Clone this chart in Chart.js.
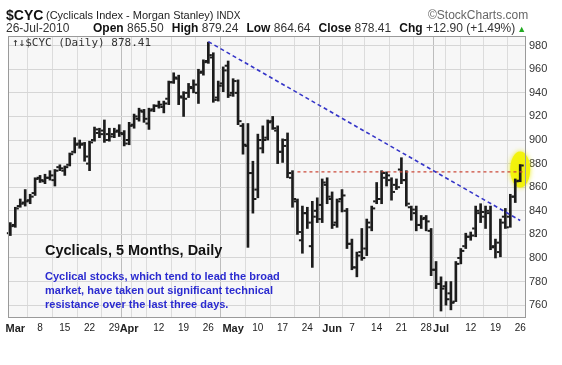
<!DOCTYPE html>
<html><head><meta charset="utf-8">
<script src="https://cdn.jsdelivr.net/npm/chart.js@4.4.1/dist/chart.umd.min.js"></script>
<style>
html,body{margin:0;padding:0;background:#fff;}
#wrap{position:relative;width:562px;height:365px;overflow:hidden;font-family:"Liberation Sans",Arial,sans-serif;}
#c{position:absolute;left:0;top:0;}
.t{position:absolute;white-space:nowrap;line-height:1;}
.l2 b{font-weight:bold;color:#111;}
.l2 span{color:#333;}
.g{margin-left:8px;}
</style></head><body>
<div id="wrap">
<canvas id="c" width="562" height="365"></canvas>
<div class="t" style="left:6px;top:8px;font-size:14px;font-weight:bold;color:#111">$CYC</div>
<div class="t" style="left:46px;top:9.5px;font-size:11px;color:#222">(Cyclicals Index - Morgan Stanley) <span style="font-size:10px">INDX</span></div>
<div class="t" style="left:428px;top:9px;font-size:12px;color:#666">©StockCharts.com</div>
<div class="t" style="left:6px;top:22px;font-size:12px;color:#333">26-Jul-2010</div>
<div class="t l2" style="left:93px;top:22px;font-size:12px"><b>Open</b> <span>865.50</span><b class="g">High</b> <span>879.24</span><b class="g">Low</b> <span>864.64</span><b class="g">Close</b> <span>878.41</span><b class="g">Chg</b> <span>+12.90 (+1.49%)</span><span style="color:#2a2;font-size:9px;margin-left:2px">▲</span></div>
<div class="t" style="left:12px;top:37px;font-size:11px;color:#333;font-family:'DejaVu Sans Mono',monospace">↑↓$CYC (Daily) 878.41</div>
<div class="t" style="left:45px;top:243px;font-size:14.5px;font-weight:bold;color:#111">Cyclicals, 5 Months, Daily</div>
<div class="t" style="left:45px;top:270.5px;font-size:11px;font-weight:bold;color:#2b2bd0">Cyclical stocks, which tend to lead the broad</div>
<div class="t" style="left:45px;top:284.5px;font-size:11px;font-weight:bold;color:#2b2bd0">market, have taken out significant technical</div>
<div class="t" style="left:45px;top:298.5px;font-size:11px;font-weight:bold;color:#2b2bd0">resistance over the last three days.</div>
</div>
<script>
const dates = [
 '2010-02-26',
 '2010-03-01','2010-03-02','2010-03-03','2010-03-04','2010-03-05',
 '2010-03-08','2010-03-09','2010-03-10','2010-03-11','2010-03-12',
 '2010-03-15','2010-03-16','2010-03-17','2010-03-18','2010-03-19',
 '2010-03-22','2010-03-23','2010-03-24','2010-03-25','2010-03-26',
 '2010-03-29','2010-03-30','2010-03-31','2010-04-01',
 '2010-04-05','2010-04-06','2010-04-07','2010-04-08','2010-04-09',
 '2010-04-12','2010-04-13','2010-04-14','2010-04-15','2010-04-16',
 '2010-04-19','2010-04-20','2010-04-21','2010-04-22','2010-04-23',
 '2010-04-26','2010-04-27','2010-04-28','2010-04-29','2010-04-30',
 '2010-05-03','2010-05-04','2010-05-05','2010-05-06','2010-05-07',
 '2010-05-10','2010-05-11','2010-05-12','2010-05-13','2010-05-14',
 '2010-05-17','2010-05-18','2010-05-19','2010-05-20','2010-05-21',
 '2010-05-24','2010-05-25','2010-05-26','2010-05-27','2010-05-28',
 '2010-06-01','2010-06-02','2010-06-03','2010-06-04',
 '2010-06-07','2010-06-08','2010-06-09','2010-06-10','2010-06-11',
 '2010-06-14','2010-06-15','2010-06-16','2010-06-17','2010-06-18',
 '2010-06-21','2010-06-22','2010-06-23','2010-06-24','2010-06-25',
 '2010-06-28','2010-06-29','2010-06-30','2010-07-01','2010-07-02',
 '2010-07-06','2010-07-07','2010-07-08','2010-07-09',
 '2010-07-12','2010-07-13','2010-07-14','2010-07-15','2010-07-16',
 '2010-07-19','2010-07-20','2010-07-21','2010-07-22','2010-07-23',
 '2010-07-26'];
const opens = [821, 828,844,847,849,855, 868,865,868,866,877, 874,879,890,897,897, 880,900,906,908,905, 905,908,905,900,
 913,918,924,914,926, 929,928,935,949,952, 936,940,944,940,958, 967,970,936,948,963, 940,940,912,895,872,
 858,893,902,916,908, 890,900,868,848,815, 838,810,840,845,862, 850,830,850,840, 812,792,805,808,826,
 848,850,868,866,862, 875,866,843,838,828, 834,823,790,778,776, 770,763,800,810, 818,825,838,835,838,
 810,805,835,835,852, 865.50];
const highs = [830, 843,850,858,854,868, 870,871,874,875,879, 878,889,902,900,898, 899,911,910,917,910, 910,913,908,915,
 922,927,926,927,930, 933,933,950,957,955, 941,948,951,960,968, 983,974,950,962,967, 952,951,914,914,882,
 905,912,917,920,912, 901,906,874,850,844, 843,848,851,867,868, 856,850,858,842, 816,805,825,833,844,
 864,874,873,868,867, 885,874,844,844,836, 836,825,797,784,780, 780,797,808,821, 822,844,846,844,844,
 816,833,842,854,867, 879.24];
const lows = [819, 826,843,844,846,853, 864,863,866,861,874, 870,878,889,893,882, 874,899,902,898,899, 902,903,895,896,
 910,916,915,909,924, 927,923,930,948,930, 920,936,940,931,955, 965,932,933,941,936, 937,913,888,809,838,
 851,889,900,909,880, 881,868,843,820,804, 825,792,830,830,846, 825,826,839,808, 790,784,798,802,823,
 846,846,861,849,858, 863,844,832,823,825, 823,785,774,755,760, 756,763,795,808, 815,818,830,825,807,
 800,801,825,826,847, 864.64];
const closes = [827, 842,846,848,852,867, 866,868,870,874,876, 877,888,896,896,886, 898,909,905,900,903, 907,906,897,912,
 920,925,918,925,929, 930,931,949,953,937, 935,945,947,957,966, 972,934,946,959,938, 950,916,896,872,850,
 900,900,915,910,890, 895,872,850,822,838, 830,835,833,864,852, 828,848,853,812, 792,802,800,830,842,
 850,872,870,856,860, 866,846,841,828,833, 831,790,778,774,765, 762,795,806,818, 819,840,839,840,809,
 813,830,826,852,865, 878.41];

const xTickDates = ['2010-03-01','2010-03-08','2010-03-15','2010-03-22','2010-03-29','2010-04-01','2010-04-05',
 '2010-04-12','2010-04-19','2010-04-26','2010-05-03','2010-05-10','2010-05-17','2010-05-24','2010-06-01',
 '2010-06-07','2010-06-14','2010-06-21','2010-06-28','2010-07-01','2010-07-06','2010-07-12','2010-07-19','2010-07-26'];
const xTickLabels = ['Mar','8','15','22','29','Apr','','12','19','26','May','10','17','24','Jun',
 '7','14','21','28','Jul','','12','19','26'];
const monthLabels = ['Mar','Apr','May','Jun','Jul'];
const yTickLabels = [760,780,800,820,840,860,880,900,920,940,960,980];

const trendDates = ['2010-04-26','2010-07-26'];
const trendValues = [983.4, 831.8];
const resistanceStart = '2010-05-20';
const resistanceLevel = 873;
const highlightDate = '2010-07-26';
const highlightValue = 875;

const X_MIN = -0.475, X_MAX = 104.17;
const pos = d => dates.indexOf(d);
const xTickPos = xTickDates.map(pos);

const ohlcPlugin = {
  id: 'ohlc',
  beforeDraw(chart) {
    const {ctx, chartArea: a} = chart;
    ctx.save(); ctx.fillStyle = '#f7f7f7'; ctx.fillRect(a.left, a.top, a.width, a.height); ctx.restore();
  },
  beforeDatasetsDraw(chart) {
    const {ctx} = chart, xs = chart.scales.x, ys = chart.scales.y;
    const cx = xs.getPixelForValue(pos(highlightDate)), cy = ys.getPixelForValue(highlightValue);
    ctx.save();
    ctx.shadowColor = 'rgba(235,235,0,0.9)'; ctx.shadowBlur = 5;
    ctx.fillStyle = 'rgba(242,242,10,0.95)';
    ctx.beginPath(); ctx.ellipse(cx, cy, 10, 18, 0, 0, Math.PI * 2); ctx.fill();
    ctx.restore();
  },
  afterDatasetsDraw(chart) {
    const {ctx} = chart, xs = chart.scales.x, ys = chart.scales.y;
    ctx.save(); ctx.fillStyle = '#1c1c1c';
    for (let k = 0; k < dates.length; k++) {
      const px = xs.getPixelForValue(k);
      const yo = ys.getPixelForValue(opens[k]), yc = ys.getPixelForValue(closes[k]);
      ctx.fillRect(px - 3.5, yo - 1, 2.5, 2);
      ctx.fillRect(px + 1, yc - 1, 2.5, 2);
    }
    ctx.restore();
  },
  afterDraw(chart) {
    const {ctx, chartArea: a} = chart;
    ctx.save(); ctx.strokeStyle = '#9a9a9a'; ctx.lineWidth = 1;
    ctx.strokeRect(Math.round(a.left) + 0.5, Math.round(a.top) + 0.5, Math.round(a.width) - 1, Math.round(a.height) - 1);
    ctx.restore();
  }
};

new Chart(document.getElementById('c'), {
  type: 'bar',
  data: {
    datasets: [
      { type: 'line', data: trendDates.map((d, i) => ({x: pos(d), y: trendValues[i]})),
        borderColor: '#3535c8', borderWidth: 1.6, borderDash: [4, 3], pointRadius: 0, fill: false, order: 0 },
      { type: 'line', data: [{x: pos(resistanceStart), y: resistanceLevel}, {x: X_MAX, y: resistanceLevel}],
        borderColor: '#cc4b3b', borderWidth: 1.2, borderDash: [3, 3], pointRadius: 0, fill: false, order: 1 },
      { type: 'bar', data: dates.map((d, k) => ({x: k, y: [lows[k], highs[k]]})),
        backgroundColor: '#1c1c1c', barThickness: 2, borderWidth: 0, order: 2 }
    ]
  },
  options: {
    responsive: false, animation: false,
    layout: { padding: { left: 8, top: 36, right: 0, bottom: 0 } },
    plugins: { legend: { display: false }, tooltip: { enabled: false } },
    scales: {
      x: {
        type: 'linear', min: X_MIN, max: X_MAX, offset: false,
        afterBuildTicks: s => { s.ticks = xTickPos.map(v => ({value: v})); },
        afterFit: s => { s.height = 47; },
        grid: { drawTicks: false,
          color: c => (c.tick && monthLabels.includes(xTickLabels[xTickPos.indexOf(c.tick.value)])) ? '#bdbdbd' : '#dcdcdc' },
        border: { display: false },
        ticks: {
          autoSkip: false, maxRotation: 0, padding: 4, color: '#222',
          callback: (v, i) => xTickLabels[i],
          font: c => monthLabels.includes(xTickLabels[c.index])
            ? { family: 'Liberation Sans', size: 11, weight: 'bold' }
            : { family: 'Liberation Sans', size: 10, weight: 'normal' }
        }
      },
      y: {
        type: 'linear', position: 'right', min: 749.1, max: 988.2,
        afterBuildTicks: s => { s.ticks = yTickLabels.map(v => ({value: v})); },
        afterFit: s => { s.width = 36; },
        grid: { drawTicks: false, color: '#d6d6d6' },
        border: { display: false },
        ticks: { padding: 3, color: '#333', font: { family: 'Liberation Sans', size: 11 },
          callback: v => String(v) }
      }
    }
  },
  plugins: [ohlcPlugin]
});
</script>
</body></html>
